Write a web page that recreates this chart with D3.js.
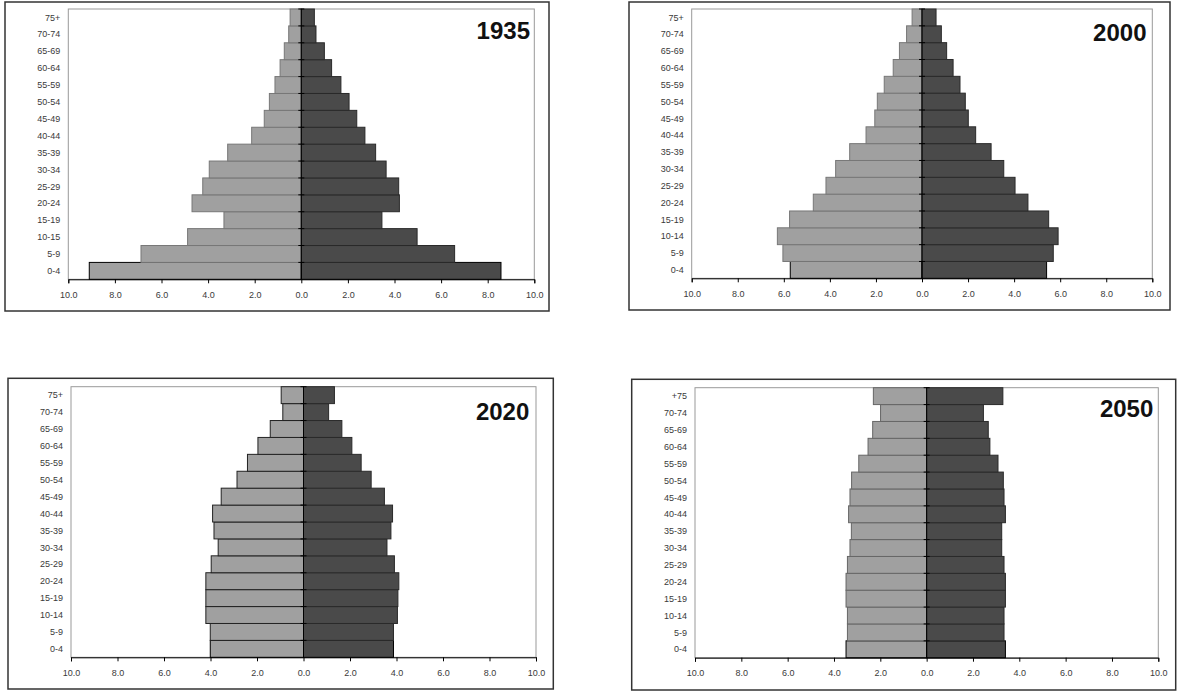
<!DOCTYPE html>
<html lang="en">
<head>
	<meta charset="UTF-8">
	<title>Population pyramids</title>
	<script type="text/javascript" src="https://cdnjs.cloudflare.com/ajax/libs/d3/7.8.5/d3.min.js"></script>
</head>
<style>
	body { margin: 0; background: #fff; }
	.lbl { font-family: "Liberation Sans Narrow", "Arial Narrow", "Liberation Sans", Arial, sans-serif; font-size: 9px; fill: #3a3a3a; }
	.ttl { font-family: "Liberation Sans", Arial, sans-serif; font-size: 24px; font-weight: bold; fill: #111; }
</style>
<body>
	<script type="text/javascript">
		// age groups, bottom to top
		var ages1935 = ["0-4", "5-9", "10-15", "15-19", "20-24", "25-29", "30-34", "35-39", "40-44", "45-49", "50-54", "55-59", "60-64", "65-69", "70-74", "75+"];
		var ages = ["0-4", "5-9", "10-14", "15-19", "20-24", "25-29", "30-34", "35-39", "40-44", "45-49", "50-54", "55-59", "60-64", "65-69", "70-74", "75+"];
		var ages2050 = ["0-4", "5-9", "10-14", "15-19", "20-24", "25-29", "30-34", "35-39", "40-44", "45-49", "50-54", "55-59", "60-64", "65-69", "70-74", "+75"];

		var xTicks = [-10, -8, -6, -4, -2, 0, 2, 4, 6, 8, 10];

		// left (light) and right (dark) values, % of population
		var left1935  = [9.10, 6.88, 4.88, 3.32, 4.69, 4.23, 3.95, 3.16, 2.13, 1.59, 1.37, 1.13, 0.91, 0.73, 0.54, 0.48];
		var right1935 = [8.57, 6.58, 4.97, 3.46, 4.21, 4.18, 3.64, 3.19, 2.73, 2.38, 2.05, 1.70, 1.30, 0.99, 0.63, 0.56];

		var left2000  = [5.72, 6.04, 6.28, 5.75, 4.72, 4.17, 3.75, 3.14, 2.43, 2.05, 1.94, 1.64, 1.25, 0.98, 0.67, 0.43];
		var right2000 = [5.41, 5.70, 5.91, 5.50, 4.60, 4.04, 3.55, 3.00, 2.33, 2.01, 1.88, 1.65, 1.35, 1.07, 0.84, 0.61];

		var left2020  = [4.01, 4.01, 4.20, 4.20, 4.20, 3.97, 3.67, 3.85, 3.91, 3.54, 2.86, 2.41, 1.96, 1.43, 0.89, 0.96];
		var right2020 = [3.87, 3.87, 4.04, 4.06, 4.10, 3.91, 3.59, 3.76, 3.83, 3.48, 2.91, 2.48, 2.08, 1.65, 1.08, 1.33];

		var left2050  = [3.48, 3.42, 3.42, 3.48, 3.48, 3.42, 3.31, 3.25, 3.37, 3.31, 3.24, 2.93, 2.53, 2.33, 1.99, 2.30];
		var right2050 = [3.40, 3.34, 3.34, 3.40, 3.40, 3.34, 3.24, 3.24, 3.40, 3.34, 3.31, 3.08, 2.73, 2.66, 2.45, 3.29];

		// panel layout
		var panels = [
			{ year: "1935", cats: ages1935, left: left1935, right: right1935,
			  frame: [5, 2, 549, 311], plot: [68.3, 9, 534.3, 279.3], titleY: 39, titleX: 530, edge: "#777" },
			{ year: "2000", cats: ages, left: left2000, right: right2000,
			  frame: [629, 2, 1170, 310], plot: [691.7, 9, 1152.3, 278.3], titleY: 40.5, titleX: 1146.5, edge: "#777" },
			{ year: "2020", cats: ages, left: left2020, right: right2020,
			  frame: [8, 378.3, 553.3, 689], plot: [71, 386.7, 536, 657.3], titleY: 420, titleX: 529.3, edge: "#222" },
			{ year: "2050", cats: ages2050, left: left2050, right: right2050,
			  frame: [631.7, 379.3, 1175.7, 690], plot: [695, 387.7, 1158.3, 657.7], titleY: 416.5, titleX: 1153.3, edge: "#666" }
		];

		var svg = d3.select('body')
					.append('svg')
					.attr('width', 1180)
					.attr('height', 693);

		panels.forEach(function(p){
			var g = svg.append('g');
			var f = p.frame, a = p.plot;

			// outer box
			g.append('rect')
			 .attr('x', f[0]).attr('y', f[1])
			 .attr('width', f[2] - f[0]).attr('height', f[3] - f[1])
			 .attr('fill', '#fff').attr('stroke', '#333').attr('stroke-width', 1.5);

			var x = d3.scaleLinear().domain([-10, 10]).range([a[0], a[2]]);
			var y = d3.scaleBand().domain(p.cats.slice().reverse()).range([a[1], a[3]]).padding(0);

			// plot area border
			g.append('rect')
			 .attr('x', a[0]).attr('y', a[1])
			 .attr('width', a[2] - a[0]).attr('height', a[3] - a[1])
			 .attr('fill', 'none').attr('stroke', '#999').attr('stroke-width', 1);

			var rows = p.cats.map(function(c, i){ return { cat: c, l: p.left[i], r: p.right[i], i: i }; });

			// left bars (light)
			g.selectAll('rect.l')
			 .data(rows)
			 .enter()
			 .append('rect')
			 .attr('class', 'l')
			 .attr('x', function(d){ return x(-d.l); })
			 .attr('y', function(d){ return y(d.cat); })
			 .attr('width', function(d){ return x(0) - x(-d.l); })
			 .attr('height', y.bandwidth())
			 .attr('fill', '#a0a0a0')
			 .attr('stroke', function(d){ return d.i === 0 ? '#000' : p.edge; })
			 .attr('stroke-width', 1);

			// right bars (dark)
			g.selectAll('rect.r')
			 .data(rows)
			 .enter()
			 .append('rect')
			 .attr('class', 'r')
			 .attr('x', x(0))
			 .attr('y', function(d){ return y(d.cat); })
			 .attr('width', function(d){ return x(d.r) - x(0); })
			 .attr('height', y.bandwidth())
			 .attr('fill', '#4a4a4a')
			 .attr('stroke', function(d){ return d.i === 0 ? '#000' : '#2a2a2a'; })
			 .attr('stroke-width', 1);

			// x axis
			var xAxis = d3.axisBottom(x)
						  .tickValues(xTicks)
						  .tickSize(4)
						  .tickFormat(function(v){ return d3.format('.1f')(Math.abs(v)); });
			var gx = g.append('g')
					  .attr('transform', 'translate(0,' + a[3] + ')')
					  .call(xAxis);
			gx.select('.domain').attr('stroke', '#000');
			gx.selectAll('.tick line').attr('stroke', '#000');
			gx.selectAll('.tick text').attr('class', 'lbl').attr('fill', null).attr('y', 12);

			// zero line with band ticks
			g.append('line')
			 .attr('x1', x(0)).attr('x2', x(0))
			 .attr('y1', a[1]).attr('y2', a[3])
			 .attr('stroke', '#000').attr('stroke-width', 1);
			g.selectAll('line.bt')
			 .data(p.cats)
			 .enter()
			 .append('line')
			 .attr('class', 'bt')
			 .attr('x1', x(0) - 3).attr('x2', x(0) + 3)
			 .attr('y1', function(d){ return y(d); })
			 .attr('y2', function(d){ return y(d); })
			 .attr('stroke', '#000').attr('stroke-width', 1);

			// category labels at the left of the plot
			g.selectAll('text.cat')
			 .data(p.cats)
			 .enter()
			 .append('text')
			 .attr('class', 'lbl')
			 .attr('x', a[0] - 8)
			 .attr('y', function(d){ return y(d) + y.bandwidth() / 2; })
			 .attr('dy', '0.35em')
			 .attr('text-anchor', 'end')
			 .text(function(d){ return d; });

			// year
			g.append('text')
			 .attr('class', 'ttl')
			 .attr('x', p.titleX)
			 .attr('y', p.titleY)
			 .attr('text-anchor', 'end')
			 .text(p.year);
		});
	</script>
</body>
</html>
